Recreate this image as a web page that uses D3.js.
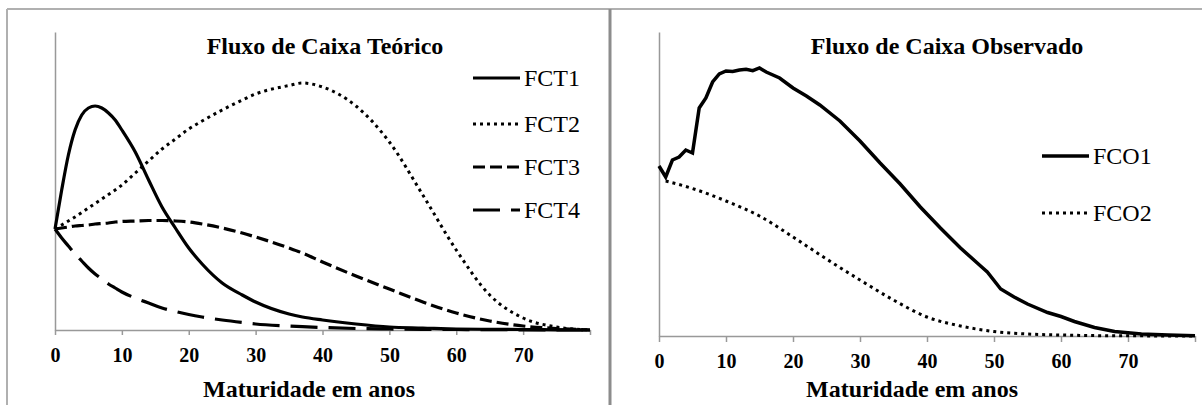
<!DOCTYPE html>
<html>
<head>
<meta charset="utf-8">
<script src="https://cdn.jsdelivr.net/npm/d3@7"></script>
<style>
  body { margin: 0; background: #fff; }
  svg text { font-family: "Liberation Serif", "DejaVu Serif", serif; fill: #000; }
  .axis path, .axis line { stroke: #999; stroke-width: 1.5; }
  .axis text { font-size: 20px; font-weight: bold; font-family: "Liberation Serif", "DejaVu Serif", serif; }
</style>
</head>
<body>
<script>
// theoretical cash flows (left panel)
const theoYears = [0,1,2,3,4,5,6,7,8,9,10,12,14,16,18,20,22,25,28,30,35,37,40,45,50,55,60,65,70,75,80];
const fct1 = [101,140,175,200,215,222,224,222,217,210,200,178,150,123,102,82,66,47,35,28,16,13,10,6,3,2,1,0.7,0.5,0.2,0];
const fct2 = [101,105,109,113,117.5,122,126.5,131,135.5,140,145,157,169,181,191,201,209,220,230,236,244.5,247,243,224,188,135,80,35,12,3,0];
const fct3 = [101,102,103,104,104.5,105,106,106.5,107,108,108.5,109,109.5,109.5,109,108,106,102,97,93,82,77,68,54,41,28,17,9,4,1.5,0];
const fct4 = [101,92,84,76,69,62,56,51,46,42,38,32,27,22,18.5,15.5,13,10,7.5,6,4,3.3,2.5,1.5,1,0.7,0.5,0.3,0.2,0.1,0];

// observed cash flows (right panel)
const fco1Years = [0,1,2,3,4,5,6,7,8,9,10,11,12,13,14,15,16,18,20,22,24,27,30,33,36,39,42,45,48,49,51,53,55,58,60,62,65,68,72,76,80];
const fco1 = [170,159,176,179,186,183,228,238,254,262,265,264.5,266,266.7,265.3,268,264,258,248,240,231,215,195,173,152,129,108,88,70,64,47,39,32,23.5,19.5,14.5,8.5,4.5,2,1,0.3];
const fco2Years = [1,5,10,15,20,25,30,35,40,45,50,55,60,65,70,80];
const fco2 = [155,147.5,135,120,99,77,56,36,19,10,4.5,2,1,0.4,0.2,0];

const xTicks = [0,10,20,30,40,50,60,70,80];
const xTickLabels = ['0','10','20','30','40','50','60','70',''];

const serif = '"Liberation Serif", "DejaVu Serif", serif';

const svg = d3.select('body').append('svg')
  .attr('width', 1202)
  .attr('height', 405)
  .attr('font-family', serif);

// frame
svg.append('line').attr('x1', 7).attr('x2', 1202).attr('y1', 9).attr('y2', 9)
  .attr('stroke', '#b0b0b0').attr('stroke-width', 2);
svg.append('line').attr('x1', 7).attr('x2', 7).attr('y1', 9).attr('y2', 405)
  .attr('stroke', '#b0b0b0').attr('stroke-width', 2);
svg.append('line').attr('x1', 610).attr('x2', 610).attr('y1', 9).attr('y2', 405)
  .attr('stroke', '#8c8c8c').attr('stroke-width', 3);

function drawPanel(p) {
  const x = d3.scaleLinear().domain([0, 80]).range([p.left, p.right]);
  const y = d3.scaleLinear().domain([0, p.yMax]).range([p.bottom, p.top]);

  svg.append('g')
    .attr('class', 'axis')
    .attr('transform', 'translate(' + p.left + ',0)')
    .call(d3.axisLeft(y).tickValues([]).tickSizeOuter(0));

  svg.append('g')
    .attr('class', 'axis')
    .attr('transform', 'translate(0,' + p.bottom + ')')
    .call(d3.axisBottom(x)
      .tickValues(xTicks)
      .tickFormat((d, i) => xTickLabels[i])
      .tickSize(p.tick)
      .tickSizeOuter(0)
      .tickPadding(18 - p.tick))
    .attr('font-family', serif)
    .attr('font-size', 20);

  p.series.forEach(s => {
    const pts = s.years.map((yr, i) => [yr, s.values[i]]);
    const line = d3.line()
      .x(d => x(d[0]))
      .y(d => y(d[1]))
      .curve(s.curve);
    svg.append('path')
      .datum(pts)
      .attr('fill', 'none')
      .attr('stroke', '#000')
      .attr('stroke-width', s.width)
      .attr('stroke-dasharray', s.dash)
      .attr('d', line);
  });

  // legend
  p.series.forEach((s, i) => {
    const ly = p.legendY[i];
    svg.append('line')
      .attr('x1', p.legendX).attr('x2', p.legendX + 47)
      .attr('y1', ly).attr('y2', ly)
      .attr('stroke', '#000')
      .attr('stroke-width', s.width)
      .attr('stroke-dasharray', s.dash);
    svg.append('text')
      .attr('x', p.legendX + 51)
      .attr('y', ly + 8)
      .attr('font-size', 24)
      .text(s.name);
  });

  svg.append('text')
    .attr('x', p.titleX).attr('y', 54)
    .attr('text-anchor', 'middle')
    .attr('font-size', 24).attr('font-weight', 'bold')
    .text(p.title);

  svg.append('text')
    .attr('x', p.labelX).attr('y', 397)
    .attr('font-size', 24).attr('font-weight', 'bold')
    .text('Maturidade em anos');
}

drawPanel({
  left: 55, right: 590, top: 32, bottom: 330, yMax: 298, tick: 5,
  title: 'Fluxo de Caixa Teórico', titleX: 325, labelX: 203,
  legendX: 473, legendY: [78, 124, 167, 210],
  series: [
    { name: 'FCT1', years: theoYears, values: fct1, width: 3.2, dash: null, curve: d3.curveMonotoneX },
    { name: 'FCT2', years: theoYears, values: fct2, width: 3, dash: '3,4', curve: d3.curveMonotoneX },
    { name: 'FCT3', years: theoYears, values: fct3, width: 3.2, dash: '12,5', curve: d3.curveMonotoneX },
    { name: 'FCT4', years: theoYears, values: fct4, width: 3.2, dash: '27,11', curve: d3.curveMonotoneX }
  ]
});

drawPanel({
  left: 659, right: 1195, top: 32, bottom: 336, yMax: 304, tick: 6,
  title: 'Fluxo de Caixa Observado', titleX: 947, labelX: 806,
  legendX: 1042, legendY: [156, 213],
  series: [
    { name: 'FCO1', years: fco1Years, values: fco1, width: 3.5, dash: null, curve: d3.curveLinear },
    { name: 'FCO2', years: fco2Years, values: fco2, width: 3, dash: '3,4', curve: d3.curveMonotoneX }
  ]
});
</script>
</body>
</html>
